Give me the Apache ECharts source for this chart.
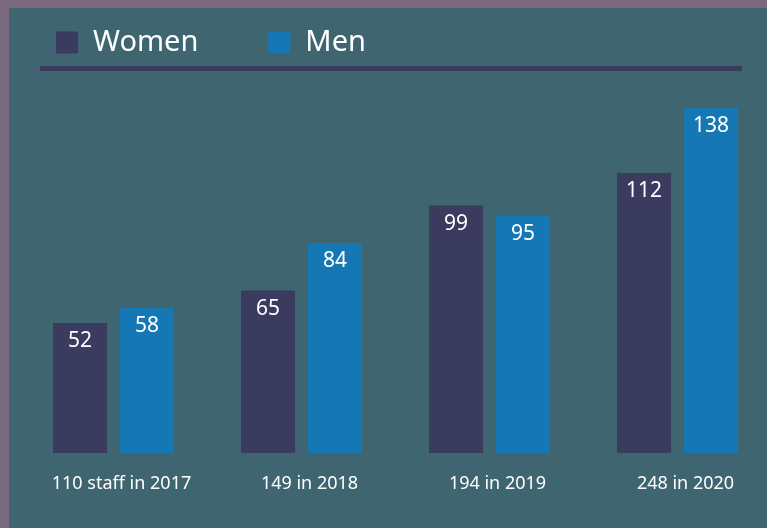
<!DOCTYPE html>
<html>
<head>
    <meta charset="utf-8">
    <style>
        html, body { margin: 0; padding: 0; overflow: hidden; }
        #main { width: 772px; height: 528px; }
    </style>
    <script src="https://cdn.jsdelivr.net/npm/echarts@6/dist/echarts.min.js"></script>
</head>
<body>
    <div id="main"></div>
    <script type="text/javascript">
        var years = ['110 staff in 2017', '149 in 2018', '194 in 2019', '248 in 2020'];
        var women = [52, 65, 99, 112];
        var men = [58, 84, 95, 138];

        var myChart = echarts.init(document.getElementById('main'));
        var font = '"Noto Sans", sans-serif';

        var option = {
            backgroundColor: '#3f6570',
            animation: false,
            textStyle: { fontFamily: font },
            graphic: [
                // purple frame on top and left
                { type: 'rect', left: 0, top: 0, shape: { width: 772, height: 8 }, style: { fill: '#7b6980' } },
                { type: 'rect', left: 0, top: 0, shape: { width: 9, height: 528 }, style: { fill: '#7b6980' } },
                // rule under the legend
                { type: 'rect', left: 40, top: 66, shape: { width: 702, height: 5 }, style: { fill: '#3b3a5e' } }
            ],
            legend: {
                left: 56,
                top: 28,
                padding: 0,
                itemWidth: 22,
                itemHeight: 22,
                itemGap: 70,
                icon: 'rect',
                data: ['Women', 'Men'],
                textStyle: {
                    color: '#ffffff',
                    fontSize: 29,
                    fontFamily: font,
                    padding: [0, 0, 0, 10]
                }
            },
            grid: { left: 19.5, right: 0.5, top: 78, bottom: 75 },
            xAxis: {
                type: 'category',
                data: years,
                axisLine: { show: false },
                axisTick: { show: false },
                axisLabel: {
                    color: '#ffffff',
                    fontSize: 18,
                    margin: 22,
                    padding: [0, 0, 0, 16]
                }
            },
            yAxis: {
                type: 'value',
                min: 0,
                max: 150,
                show: false
            },
            series: [{
                name: 'Women',
                type: 'bar',
                data: women,
                barWidth: 54,
                barGap: '24%',
                itemStyle: { color: '#3b3b5f' },
                label: { show: true, position: 'insideTop', distance: 8, color: '#ffffff', fontSize: 21 }
            }, {
                name: 'Men',
                type: 'bar',
                data: men,
                barWidth: 54,
                barGap: '24%',
                itemStyle: { color: '#1578b5' },
                label: { show: true, position: 'insideTop', distance: 8, color: '#ffffff', fontSize: 21 }
            }]
        };

        myChart.setOption(option);
    </script>
</body>
</html>
